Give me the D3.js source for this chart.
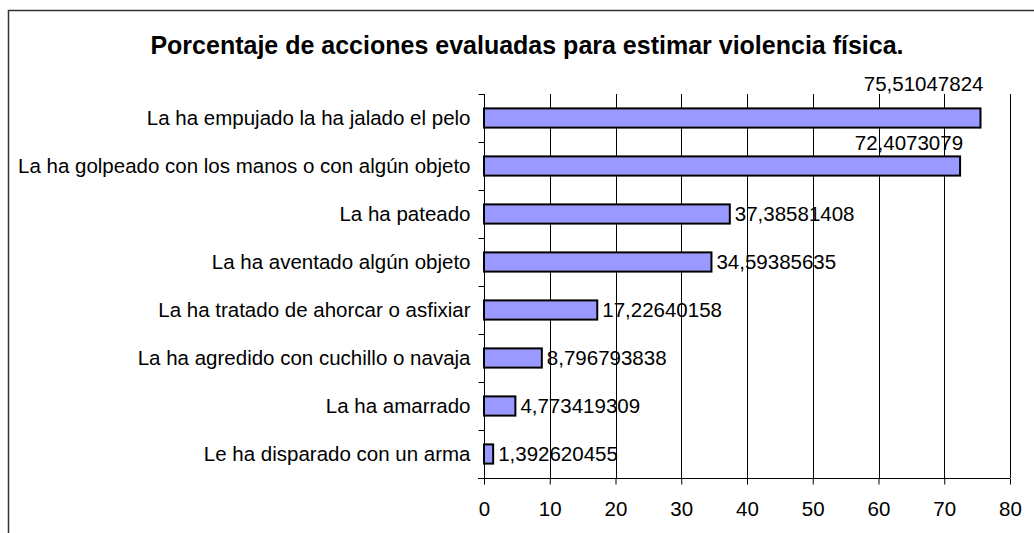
<!DOCTYPE html>
<html>
<head>
<meta charset="utf-8">
<script src="https://cdn.jsdelivr.net/npm/d3@7"></script>
<style>
  body { margin: 0; background: #fff; }
  text { font-family: "Liberation Sans", Arial, sans-serif; fill: #000; }
</style>
</head>
<body>
<div id="chart"></div>
<script>
// data
var titulo = 'Porcentaje de acciones evaluadas para estimar violencia física.';
var categorias = [
  'La ha empujado la ha jalado el pelo',
  'La ha golpeado con los manos o con algún objeto',
  'La ha pateado',
  'La ha aventado algún objeto',
  'La ha tratado de ahorcar o asfixiar',
  'La ha agredido con cuchillo o navaja',
  'La ha amarrado',
  'Le ha disparado con un arma'
];
var valores = [75.51047824, 72.4073079, 37.38581408, 34.59385635, 17.22640158, 8.796793838, 4.773419309, 1.392620455];
var etiquetas = ['75,51047824', '72,4073079', '37,38581408', '34,59385635', '17,22640158', '8,796793838', '4,773419309', '1,392620455'];
var ticksX = [0, 10, 20, 30, 40, 50, 60, 70, 80];

var W = 1034, H = 533;
var plot = { left: 484, right: 1010, top: 94, bottom: 478 };
var fs = '20.5px';

var svg = d3.select('#chart').append('svg')
  .attr('width', W)
  .attr('height', H);

// outer border
svg.append('rect')
  .attr('x', 8.5).attr('y', 10.5)
  .attr('width', W + 10).attr('height', H + 10)
  .attr('fill', 'none')
  .attr('stroke', '#333')
  .attr('stroke-width', 1.5);

svg.append('text')
  .attr('x', 527).attr('y', 54)
  .attr('text-anchor', 'middle')
  .style('font-size', '25px')
  .style('font-weight', 'bold')
  .text(titulo);

var x = d3.scaleLinear().domain([0, 80]).range([plot.left, plot.right]);
var y = d3.scaleBand().domain(categorias).range([plot.top, plot.bottom]).paddingInner(0.6).paddingOuter(0.3);
var yb = d3.scaleBand().domain(categorias).range([plot.top, plot.bottom]);

// gridlines
svg.append('g').selectAll('line')
  .data(ticksX.slice(1))
  .enter().append('line')
  .attr('x1', function (d) { return Math.round(x(d)) + 0.5; })
  .attr('x2', function (d) { return Math.round(x(d)) + 0.5; })
  .attr('y1', plot.top).attr('y2', plot.bottom)
  .attr('stroke', '#000').attr('stroke-width', 1);

// bars
svg.append('g').selectAll('rect')
  .data(valores)
  .enter().append('rect')
  .attr('x', x(0))
  .attr('y', function (d, i) { return y(categorias[i]); })
  .attr('width', function (d) { return x(d) - x(0); })
  .attr('height', y.bandwidth())
  .attr('fill', '#9999ff')
  .attr('stroke', '#000')
  .attr('stroke-width', 2);

// x axis
var ax = d3.axisBottom(x).tickValues(ticksX).tickSize(6).tickPadding(17).tickFormat(d3.format('d'));
var gx = svg.append('g').attr('transform', 'translate(0,' + (plot.bottom + 0.5) + ')').call(ax);
gx.select('.domain').attr('d', 'M' + (plot.left - 6) + ',0H' + plot.right).attr('stroke', '#000');
gx.selectAll('text').style('font-size', fs).style('font-family', '"Liberation Sans", Arial, sans-serif');

// y axis
var gy = svg.append('g').attr('transform', 'translate(' + (plot.left + 0.5) + ',0)');
gy.append('line').attr('y1', plot.top).attr('y2', plot.bottom).attr('stroke', '#000');
gy.selectAll('line.t')
  .data(d3.range(categorias.length))
  .enter().append('line').attr('class', 't')
  .attr('x1', -6).attr('x2', 0)
  .attr('y1', function (i) { return Math.round(yb(categorias[i])) + 0.5; })
  .attr('y2', function (i) { return Math.round(yb(categorias[i])) + 0.5; })
  .attr('stroke', '#000');
gy.selectAll('text')
  .data(categorias)
  .enter().append('text')
  .attr('x', -14)
  .attr('y', function (d) { return yb(d) + yb.bandwidth() / 2; })
  .attr('dy', '0.35em')
  .attr('text-anchor', 'end')
  .style('font-size', fs)
  .text(function (d) { return d; });

// value labels (the two longest sit above their bars)
var subir = [34, 23];
svg.append('g').selectAll('text')
  .data(valores)
  .enter().append('text')
  .attr('x', function (d, i) { return i < subir.length ? x(d) + 3 : x(d) + 5; })
  .attr('y', function (d, i) {
    var c = yb(categorias[i]) + yb.bandwidth() / 2;
    return i < subir.length ? c - subir[i] : c;
  })
  .attr('dy', '0.35em')
  .attr('text-anchor', function (d, i) { return i < subir.length ? 'end' : 'start'; })
  .style('font-size', fs)
  .text(function (d, i) { return etiquetas[i]; });
</script>
</body>
</html>
